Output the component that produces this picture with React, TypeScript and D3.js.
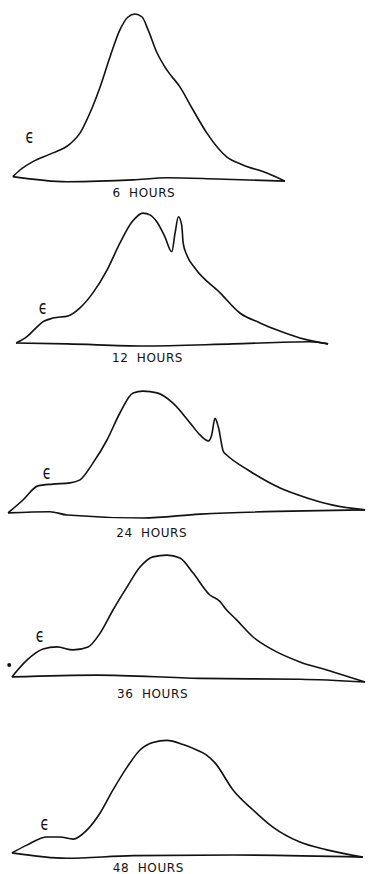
import React, { useEffect, useRef } from 'react';
import * as d3 from 'd3';

// absorbance traces, arbitrary units (x: wavelength position, y: absorbance)
const labels = ['6 HOURS', '12 HOURS', '24 HOURS', '36 HOURS', '48 HOURS'];

const curve6x = [1.6, 4.0, 8.3, 14.0, 20.7, 24.0, 27.3, 30.7, 34.0, 37.3, 40.0, 42.3, 44.7, 46.7, 49.7, 53.0, 57.3, 61.7, 66.3, 73.0, 78.3, 86.3, 92.3];
const curve6y = [1.8, 4.0, 6.8, 9.3, 12.7, 16.3, 23.0, 31.7, 41.7, 50.7, 55.0, 56.0, 55.0, 50.7, 43.0, 37.3, 31.7, 24.0, 16.3, 8.3, 5.7, 3.0, 0.3];
const base6x = [1.6, 19.6, 41.7, 53.0, 69.7, 92.3];
const base6y = [1.8, 0.1, 0.7, 1.4, 1.0, 0.3];

const curve12x = [2.7, 6.3, 9.7, 11.7, 15.0, 20.0, 24.0, 28.3, 33.0, 37.3, 41.3, 45.0, 47.3, 49.6, 52.3, 54.6, 55.7, 56.8, 57.9, 58.4, 59.6, 62.3, 70.7, 77.3, 84.0, 89.7, 97.3, 106.7];
const curve12y = [1.0, 3.1, 6.4, 8.1, 9.3, 10.0, 12.7, 17.7, 25.3, 34.3, 41.3, 44.3, 43.7, 41.4, 36.4, 31.4, 37.7, 43.1, 40.3, 34.3, 30.3, 26.0, 17.7, 11.0, 7.7, 5.3, 2.7, 0.7];
const base12x = [2.7, 19.7, 45.0, 75.0, 100.7, 106.7];
const base12y = [1.0, 0.7, 0.0, 0.7, 1.4, 0.7];

const curve24x = [0, 5.0, 10.0, 15.0, 20.7, 24.0, 28.3, 33.0, 37.3, 41.7, 45.0, 49.7, 55.0, 60.7, 64.0, 66.8, 67.9, 69.0, 70.1, 71.8, 72.9, 80.0, 90.7, 99.7, 108.3, 119.0];
const curve24y = [1.7, 6.0, 10.7, 11.3, 11.7, 12.7, 18.3, 26.0, 35.0, 41.7, 42.3, 41.7, 38.3, 31.7, 27.7, 25.7, 27.7, 33.2, 30.4, 22.1, 21.0, 16.0, 10.0, 6.7, 4.3, 2.7];
const base24x = [0, 14.0, 19.7, 45.0, 64.0, 119.0];
const base24y = [1.7, 2.1, 1.0, 0.0, 1.3, 2.7];

const curve36x = [1.3, 6.3, 11.7, 16.3, 21.7, 26.7, 30.7, 35.0, 39.7, 44.0, 48.3, 53.0, 57.3, 61.7, 67.3, 70.7, 72.3, 76.2, 81.7, 88.3, 97.3, 106.3, 119.0];
const curve36y = [1.7, 7.3, 11.0, 11.7, 10.7, 11.7, 16.3, 24.0, 31.7, 38.3, 41.7, 42.3, 41.3, 36.3, 29.0, 26.8, 24.7, 20.7, 15.0, 10.7, 6.7, 4.0, 0];
const base36x = [1.3, 29.6, 64.0, 97.3, 119.0];
const base36y = [1.7, 2.3, 1.2, 0.9, 0];

const curve48x = [1.3, 6.3, 13.0, 17.3, 21.7, 26.3, 30.7, 35.0, 39.7, 44.0, 48.3, 53.0, 58.4, 62.9, 66.2, 69.0, 75.0, 81.7, 88.3, 97.3, 106.3, 118.3];
const curve48y = [1.7, 4.3, 7.0, 7.0, 6.3, 9.3, 15.0, 22.7, 30.3, 36.0, 38.5, 39.2, 37.8, 36.0, 34.3, 31.7, 22.7, 16.0, 10.3, 5.3, 2.7, 0.3];
const base48x = [1.3, 19.6, 41.8, 75.1, 118.3];
const base48y = [1.7, -0.1, 0.8, 1.0, 0.3];

const curvesX = [curve6x, curve12x, curve24x, curve36x, curve48x];
const curvesY = [curve6y, curve12y, curve24y, curve36y, curve48y];
const basesX = [base6x, base12x, base24x, base36x, base48x];
const basesY = [base6y, base12y, base24y, base36y, base48y];

// annotation positions in data units
const labelX = [45.3, 46.5, 47.9, 48.2, 46.8];
const labelY = [-4.9, -5.4, -6.2, -5.3, -4.8];
const epsX = [7.3, 11.7, 13.0, 10.7, 12.3];
const epsY = [15.3, 13.0, 15.3, 15.7, 11.7];

const W = 369;
const H = 874;
const panelBottoms = [182, 346, 518, 682, 858];

const App = () => {
  const svgRef = useRef<SVGSVGElement>(null);

  useEffect(() => {
    const svg = d3.select(svgRef.current);
    svg.selectAll('*').remove();

    const x = d3.scaleLinear().domain([0, 119]).range([8, 365]);

    const line = d3.line<[number, number]>()
      .curve(d3.curveMonotoneX);

    panelBottoms.forEach((bottom, i) => {
      const y = d3.scaleLinear().domain([0, 60]).range([bottom, bottom - 180]);
      line.x(d => x(d[0])).y(d => y(d[1]));

      const g = svg.append('g');

      const pts = curvesX[i].map((v, k) => [v, curvesY[i][k]] as [number, number]);
      const base = basesX[i].map((v, k) => [v, basesY[i][k]] as [number, number]);

      g.append('path')
        .attr('d', line(base))
        .attr('fill', 'none')
        .attr('stroke', '#111')
        .attr('stroke-width', 1.6);

      g.append('path')
        .attr('d', line(pts))
        .attr('fill', 'none')
        .attr('stroke', '#111')
        .attr('stroke-width', 1.6)
        .attr('stroke-linejoin', 'round');

      g.append('text')
        .attr('x', x(labelX[i]))
        .attr('y', y(labelY[i]))
        .attr('text-anchor', 'middle')
        .style('font-family', 'DejaVu Sans, sans-serif')
        .style('font-size', '12px')
        .style('letter-spacing', '0.6px')
        .style('word-spacing', '4px')
        .attr('fill', '#111')
        .text(labels[i]);

      // epsilon marker, narrowed a little to match the hand lettering
      g.append('text')
        .attr('transform', `translate(${x(epsX[i])},${y(epsY[i])}) scale(0.7,1)`)
        .attr('text-anchor', 'middle')
        .attr('dominant-baseline', 'central')
        .style('font-family', 'DejaVu Sans, sans-serif')
        .style('font-size', '20px')
        .attr('fill', '#111')
        .text('ϵ');

      // stray dot beside the 36 h trace
      if (i === 3) {
        g.append('circle')
          .attr('cx', x(0.4))
          .attr('cy', y(5.7))
          .attr('r', 2)
          .attr('fill', '#111');
      }
    });
  }, []);

  return (
    <svg
      ref={svgRef}
      width={W}
      height={H}
      style={{ position: 'absolute', left: 0, top: 0, background: '#fff' }}
    />
  );
};

export default App;
